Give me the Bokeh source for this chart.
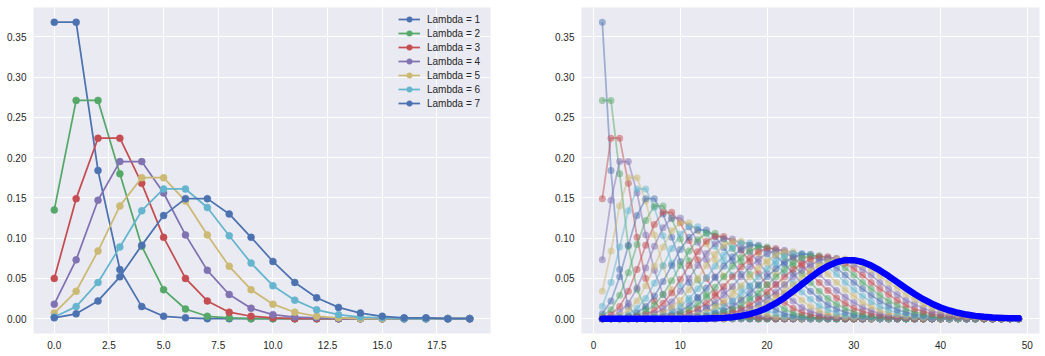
from bokeh.plotting import figure
from bokeh.layouts import row
from bokeh.models import Range1d, FixedTicker, Legend, LegendItem
from bokeh.embed import file_html
from bokeh.resources import INLINE

palette = ["#4C72B0", "#55A868", "#C44E52", "#8172B2", "#CCB974", "#64B5CD"]

# ---------------- left panel data (x = 0..19) ----------------
left_x = [0, 1, 2, 3, 4, 5, 6, 7, 8, 9, 10, 11, 12, 13, 14, 15, 16, 17, 18, 19]
left_names = ["Lambda = 1", "Lambda = 2", "Lambda = 3", "Lambda = 4",
              "Lambda = 5", "Lambda = 6", "Lambda = 7"]
lam1 = [0.368, 0.368, 0.184, 0.061, 0.015, 0.003, 0.001, 0, 0, 0, 0, 0, 0, 0, 0, 0, 0, 0, 0, 0]
lam2 = [0.135, 0.271, 0.271, 0.180, 0.090, 0.036, 0.012, 0.003, 0.001, 0, 0, 0, 0, 0, 0, 0, 0, 0, 0, 0]
lam3 = [0.050, 0.149, 0.224, 0.224, 0.168, 0.101, 0.050, 0.022, 0.008, 0.003, 0.001, 0, 0, 0, 0, 0, 0, 0, 0, 0]
lam4 = [0.018, 0.073, 0.147, 0.195, 0.195, 0.156, 0.104, 0.060, 0.030, 0.013, 0.005, 0.002, 0.001, 0, 0, 0, 0, 0, 0, 0]
lam5 = [0.007, 0.034, 0.084, 0.140, 0.175, 0.175, 0.146, 0.104, 0.065, 0.036, 0.018, 0.008, 0.003, 0.001, 0, 0, 0, 0, 0, 0]
lam6 = [0.002, 0.015, 0.045, 0.089, 0.134, 0.161, 0.161, 0.138, 0.103, 0.069, 0.041, 0.023, 0.011, 0.005, 0.002, 0.001, 0, 0, 0, 0]
lam7 = [0.001, 0.006, 0.022, 0.052, 0.091, 0.128, 0.149, 0.149, 0.130, 0.101, 0.071, 0.045, 0.026, 0.014, 0.007, 0.003, 0.001, 0.001, 0, 0]
left_series = [lam1, lam2, lam3, lam4, lam5, lam6, lam7]

left_xticks = [0.0, 2.5, 5.0, 7.5, 10.0, 12.5, 15.0, 17.5]
left_xtick_labels = ["0.0", "2.5", "5.0", "7.5", "10.0", "12.5", "15.0", "17.5"]
yticks = [0.0, 0.05, 0.1, 0.15, 0.2, 0.25, 0.3, 0.35]
ytick_labels = ["0.00", "0.05", "0.10", "0.15", "0.20", "0.25", "0.30", "0.35"]

# ---------------- right panel data (x = 1..49) ----------------
right_x = [1, 2, 3, 4, 5, 6, 7, 8, 9, 10, 11, 12, 13, 14, 15, 16, 17, 18, 19, 20,
           21, 22, 23, 24, 25, 26, 27, 28, 29, 30, 31, 32, 33, 34, 35, 36, 37, 38, 39, 40,
           41, 42, 43, 44, 45, 46, 47, 48, 49]
right_xticks = [0, 10, 20, 30, 40, 50]
right_xtick_labels = ["0", "10", "20", "30", "40", "50"]

r1 = [0.368, 0.184, 0.061, 0.015, 0.003, 0.001,
      0, 0, 0, 0, 0, 0, 0, 0, 0, 0, 0, 0, 0, 0, 0, 0, 0, 0, 0, 0,
      0, 0, 0, 0, 0, 0, 0, 0, 0, 0, 0, 0, 0, 0, 0, 0, 0, 0, 0, 0, 0, 0, 0]
r2 = [0.271, 0.271, 0.180, 0.090, 0.036, 0.012, 0.003, 0.001,
      0, 0, 0, 0, 0, 0, 0, 0, 0, 0, 0, 0, 0, 0, 0, 0, 0, 0, 0, 0,
      0, 0, 0, 0, 0, 0, 0, 0, 0, 0, 0, 0, 0, 0, 0, 0, 0, 0, 0, 0, 0]
r3 = [0.149, 0.224, 0.224, 0.168, 0.101, 0.050, 0.022, 0.008, 0.003, 0.001,
      0, 0, 0, 0, 0, 0, 0, 0, 0, 0, 0, 0, 0, 0, 0, 0, 0, 0, 0, 0,
      0, 0, 0, 0, 0, 0, 0, 0, 0, 0, 0, 0, 0, 0, 0, 0, 0, 0, 0]
r4 = [0.073, 0.147, 0.195, 0.195, 0.156, 0.104, 0.060, 0.030, 0.013, 0.005, 0.002, 0.001,
      0, 0, 0, 0, 0, 0, 0, 0, 0, 0, 0, 0, 0, 0, 0, 0, 0, 0, 0, 0,
      0, 0, 0, 0, 0, 0, 0, 0, 0, 0, 0, 0, 0, 0, 0, 0, 0]
r5 = [0.034, 0.084, 0.140, 0.175, 0.175, 0.146, 0.104, 0.065, 0.036, 0.018, 0.008, 0.003, 0.001,
      0, 0, 0, 0, 0, 0, 0, 0, 0, 0, 0, 0, 0, 0, 0, 0, 0, 0, 0, 0,
      0, 0, 0, 0, 0, 0, 0, 0, 0, 0, 0, 0, 0, 0, 0, 0]
r6 = [0.015, 0.045, 0.089, 0.134, 0.161, 0.161, 0.138, 0.103, 0.069, 0.041, 0.023, 0.011, 0.005, 0.002, 0.001,
      0, 0, 0, 0, 0, 0, 0, 0, 0, 0, 0, 0, 0, 0, 0, 0, 0, 0, 0, 0,
      0, 0, 0, 0, 0, 0, 0, 0, 0, 0, 0, 0, 0, 0]
r7 = [0.006, 0.022, 0.052, 0.091, 0.128, 0.149, 0.149, 0.130, 0.101, 0.071, 0.045, 0.026, 0.014, 0.007, 0.003, 0.001, 0.001,
      0, 0, 0, 0, 0, 0, 0, 0, 0, 0, 0, 0, 0, 0, 0, 0, 0, 0, 0, 0,
      0, 0, 0, 0, 0, 0, 0, 0, 0, 0, 0, 0]
r8 = [0.003, 0.011, 0.029, 0.057, 0.092, 0.122, 0.140, 0.140, 0.124, 0.099, 0.072, 0.048, 0.030, 0.017, 0.009, 0.005, 0.002, 0.001,
      0, 0, 0, 0, 0, 0, 0, 0, 0, 0, 0, 0, 0, 0, 0, 0, 0, 0, 0, 0,
      0, 0, 0, 0, 0, 0, 0, 0, 0, 0, 0]
r9 = [0.001, 0.005, 0.015, 0.034, 0.061, 0.091, 0.117, 0.132, 0.132, 0.119, 0.097, 0.073, 0.050, 0.032, 0.019, 0.011, 0.006, 0.003, 0.001, 0.001,
      0, 0, 0, 0, 0, 0, 0, 0, 0, 0, 0, 0, 0, 0, 0, 0, 0, 0, 0, 0,
      0, 0, 0, 0, 0, 0, 0, 0, 0]
r10 = [0, 0.002, 0.008, 0.019, 0.038, 0.063, 0.090, 0.113, 0.125, 0.125, 0.114, 0.095, 0.073, 0.052, 0.035, 0.022, 0.013, 0.007, 0.004, 0.002, 0.001,
       0, 0, 0, 0, 0, 0, 0, 0, 0, 0, 0, 0, 0, 0, 0, 0, 0, 0, 0, 0,
       0, 0, 0, 0, 0, 0, 0, 0]
r11 = [0, 0.001, 0.004, 0.010, 0.022, 0.041, 0.065, 0.089, 0.109, 0.119, 0.119, 0.109, 0.093, 0.073, 0.053, 0.037, 0.024, 0.015, 0.008, 0.005, 0.002, 0.001, 0.001,
       0, 0, 0, 0, 0, 0, 0, 0, 0, 0, 0, 0, 0, 0, 0, 0, 0, 0, 0, 0,
       0, 0, 0, 0, 0, 0]
r12 = [0, 0, 0.002, 0.005, 0.013, 0.025, 0.044, 0.066, 0.087, 0.105, 0.114, 0.114, 0.106, 0.090, 0.072, 0.054, 0.038, 0.026, 0.016, 0.010, 0.006, 0.003, 0.002, 0.001,
       0, 0, 0, 0, 0, 0, 0, 0, 0, 0, 0, 0, 0, 0, 0, 0, 0, 0, 0, 0,
       0, 0, 0, 0, 0]
r13 = [0, 0, 0.001, 0.003, 0.007, 0.015, 0.028, 0.046, 0.066, 0.086, 0.101, 0.110, 0.110, 0.102, 0.088, 0.072, 0.055, 0.040, 0.027, 0.018, 0.011, 0.006, 0.004, 0.002, 0.001, 0.001,
       0, 0, 0, 0, 0, 0, 0, 0, 0, 0, 0, 0, 0, 0, 0, 0, 0, 0, 0, 0,
       0, 0, 0]
r14 = [0, 0, 0, 0.001, 0.004, 0.009, 0.017, 0.030, 0.047, 0.066, 0.084, 0.098, 0.106, 0.106, 0.099, 0.087, 0.071, 0.055, 0.041, 0.029, 0.019, 0.012, 0.007, 0.004, 0.002, 0.001, 0.001,
       0, 0, 0, 0, 0, 0, 0, 0, 0, 0, 0, 0, 0, 0, 0, 0, 0, 0, 0, 0,
       0, 0]
r15 = [0, 0, 0, 0.001, 0.002, 0.005, 0.010, 0.019, 0.032, 0.049, 0.066, 0.083, 0.096, 0.102, 0.102, 0.096, 0.085, 0.071, 0.056, 0.042, 0.030, 0.020, 0.013, 0.008, 0.005, 0.003, 0.002, 0.001,
       0, 0, 0, 0, 0, 0, 0, 0, 0, 0, 0, 0, 0, 0, 0, 0, 0, 0, 0, 0,
       0]
r16 = [0, 0, 0, 0, 0.001, 0.003, 0.006, 0.012, 0.021, 0.034, 0.050, 0.066, 0.081, 0.093, 0.099, 0.099, 0.093, 0.083, 0.070, 0.056, 0.043, 0.031, 0.022, 0.014, 0.009, 0.006, 0.003, 0.002, 0.001, 0.001,
       0, 0, 0, 0, 0, 0, 0, 0, 0, 0, 0, 0, 0, 0, 0, 0, 0, 0, 0]
r17 = [0, 0, 0, 0, 0, 0.001, 0.003, 0.007, 0.014, 0.023, 0.036, 0.050, 0.066, 0.080, 0.091, 0.096, 0.096, 0.091, 0.081, 0.069, 0.056, 0.043, 0.032, 0.023, 0.015, 0.010, 0.006, 0.004, 0.002, 0.001, 0.001,
       0, 0, 0, 0, 0, 0, 0, 0, 0, 0, 0, 0, 0, 0, 0, 0, 0, 0]
r18 = [0, 0, 0, 0, 0, 0.001, 0.002, 0.004, 0.008, 0.015, 0.025, 0.037, 0.051, 0.065, 0.079, 0.088, 0.094, 0.094, 0.089, 0.080, 0.068, 0.056, 0.044, 0.033, 0.024, 0.016, 0.011, 0.007, 0.004, 0.003, 0.002, 0.001,
       0, 0, 0, 0, 0, 0, 0, 0, 0, 0, 0, 0, 0, 0, 0, 0, 0]
r19 = [0, 0, 0, 0, 0, 0,
       0.001, 0.002, 0.005, 0.009, 0.016, 0.026, 0.038, 0.051, 0.065, 0.077, 0.086, 0.091, 0.091, 0.087, 0.078, 0.068, 0.056, 0.044, 0.034, 0.025, 0.017, 0.012, 0.008, 0.005, 0.003, 0.002, 0.001, 0.001,
       0, 0, 0, 0, 0, 0, 0, 0, 0, 0, 0, 0, 0, 0, 0]
r20 = [0, 0, 0, 0, 0, 0,
       0.001, 0.001, 0.003, 0.006, 0.011, 0.018, 0.027, 0.039, 0.052, 0.065, 0.076, 0.084, 0.089, 0.089, 0.085, 0.077, 0.067, 0.056, 0.045, 0.034, 0.025, 0.018, 0.013, 0.008, 0.005, 0.003, 0.002, 0.001, 0.001,
       0, 0, 0, 0, 0, 0, 0, 0, 0, 0, 0, 0, 0, 0]
r21 = [0, 0, 0, 0, 0, 0, 0,
       0.001, 0.002, 0.003, 0.007, 0.012, 0.019, 0.028, 0.040, 0.052, 0.064, 0.075, 0.083, 0.087, 0.087, 0.083, 0.076, 0.066, 0.056, 0.045, 0.035, 0.026, 0.019, 0.013, 0.009, 0.006, 0.004, 0.002, 0.001, 0.001,
       0, 0, 0, 0, 0, 0, 0, 0, 0, 0, 0, 0, 0]
r22 = [0, 0, 0, 0, 0, 0, 0, 0,
       0.001, 0.002, 0.004, 0.007, 0.013, 0.020, 0.029, 0.040, 0.052, 0.064, 0.074, 0.081, 0.085, 0.085, 0.081, 0.074, 0.065, 0.055, 0.045, 0.035, 0.027, 0.020, 0.014, 0.010, 0.006, 0.004, 0.003, 0.002, 0.001, 0.001,
       0, 0, 0, 0, 0, 0, 0, 0, 0, 0, 0]
r23 = [0, 0, 0, 0, 0, 0, 0, 0,
       0.001, 0.001, 0.002, 0.005, 0.008, 0.014, 0.021, 0.030, 0.041, 0.052, 0.063, 0.072, 0.079, 0.083, 0.083, 0.079, 0.073, 0.065, 0.055, 0.045, 0.036, 0.028, 0.020, 0.015, 0.010, 0.007, 0.005, 0.003, 0.002, 0.001, 0.001,
       0, 0, 0, 0, 0, 0, 0, 0, 0, 0]
r24 = [0, 0, 0, 0, 0, 0, 0, 0, 0,
       0.001, 0.001, 0.003, 0.005, 0.009, 0.015, 0.022, 0.031, 0.041, 0.052, 0.062, 0.071, 0.078, 0.081, 0.081, 0.078, 0.072, 0.064, 0.055, 0.045, 0.036, 0.028, 0.021, 0.015, 0.011, 0.007, 0.005, 0.003, 0.002, 0.001, 0.001,
       0, 0, 0, 0, 0, 0, 0, 0, 0]
r25 = [0, 0, 0, 0, 0, 0, 0, 0, 0, 0,
       0.001, 0.002, 0.003, 0.006, 0.010, 0.015, 0.023, 0.032, 0.042, 0.052, 0.062, 0.070, 0.076, 0.080, 0.080, 0.076, 0.071, 0.063, 0.054, 0.045, 0.037, 0.029, 0.022, 0.016, 0.011, 0.008, 0.005, 0.004, 0.002, 0.001, 0.001, 0.001,
       0, 0, 0, 0, 0, 0, 0]
r26 = [0, 0, 0, 0, 0, 0, 0, 0, 0, 0, 0,
       0.001, 0.002, 0.004, 0.007, 0.011, 0.016, 0.024, 0.032, 0.042, 0.052, 0.061, 0.069, 0.075, 0.078, 0.078, 0.075, 0.070, 0.063, 0.054, 0.045, 0.037, 0.029, 0.022, 0.017, 0.012, 0.008, 0.006, 0.004, 0.002, 0.002, 0.001, 0.001,
       0, 0, 0, 0, 0, 0]
r27 = [0, 0, 0, 0, 0, 0, 0, 0, 0, 0, 0,
       0.001, 0.001, 0.002, 0.004, 0.007, 0.011, 0.017, 0.024, 0.033, 0.042, 0.052, 0.061, 0.068, 0.074, 0.077, 0.077, 0.074, 0.069, 0.062, 0.054, 0.045, 0.037, 0.030, 0.023, 0.017, 0.012, 0.009, 0.006, 0.004, 0.003, 0.002, 0.001, 0.001,
       0, 0, 0, 0, 0]
r28 = [0, 0, 0, 0, 0, 0, 0, 0, 0, 0, 0, 0,
       0.001, 0.001, 0.003, 0.005, 0.008, 0.012, 0.018, 0.025, 0.033, 0.042, 0.052, 0.060, 0.067, 0.072, 0.075, 0.075, 0.073, 0.068, 0.061, 0.054, 0.045, 0.037, 0.030, 0.023, 0.018, 0.013, 0.009, 0.007, 0.004, 0.003, 0.002, 0.001, 0.001,
       0, 0, 0, 0]
r29 = [0, 0, 0, 0, 0, 0, 0, 0, 0, 0, 0, 0, 0,
       0.001, 0.002, 0.003, 0.005, 0.008, 0.013, 0.019, 0.026, 0.034, 0.042, 0.051, 0.060, 0.066, 0.071, 0.074, 0.074, 0.071, 0.067, 0.061, 0.053, 0.045, 0.038, 0.030, 0.024, 0.018, 0.013, 0.010, 0.007, 0.005, 0.003, 0.002, 0.001, 0.001, 0.001,
       0, 0]
right_series = [r1, r2, r3, r4, r5, r6, r7, r8, r9, r10, r11, r12, r13, r14, r15,
                r16, r17, r18, r19, r20, r21, r22, r23, r24, r25, r26, r27, r28, r29]

# highlighted lambda = 30 curve
lam30 = [0, 0, 0, 0, 0, 0, 0, 0, 0, 0, 0, 0,
         0.0002, 0.0005, 0.0010, 0.0019, 0.0034, 0.0057, 0.0089, 0.0134, 0.0192, 0.0261,
         0.0341, 0.0426, 0.0511, 0.0590, 0.0655, 0.0702, 0.0726, 0.0726, 0.0703, 0.0659,
         0.0599, 0.0529, 0.0453, 0.0378, 0.0306, 0.0242, 0.0186, 0.0139, 0.0102, 0.0073,
         0.0051, 0.0035, 0.0023, 0.0015, 0.0010, 0.0006, 0.0004]

FONT = "Liberation Sans"
TXT = "#262626"


def style(p, xticks, xlabels):
    p.xaxis.ticker = FixedTicker(ticks=xticks)
    p.xaxis.major_label_overrides = {t: s for t, s in zip(xticks, xlabels)}
    p.yaxis.ticker = FixedTicker(ticks=yticks)
    p.yaxis.major_label_overrides = {t: s for t, s in zip(yticks, ytick_labels)}
    for ax in list(p.xaxis) + list(p.yaxis):
        ax.axis_line_color = None
        ax.major_tick_line_color = None
        ax.minor_tick_line_color = None
        ax.major_tick_out = 0
        ax.major_tick_in = 0
        ax.major_label_text_font = FONT
        ax.major_label_text_font_size = "10px"
        ax.major_label_text_color = TXT
        ax.major_label_standoff = 7
    for g in list(p.xgrid) + list(p.ygrid):
        g.grid_line_color = "white"
        g.grid_line_width = 1
    p.outline_line_color = None


y_lo, y_hi = -0.0184, 0.3863

p1 = figure(width=535, height=356, output_backend="svg", toolbar_location=None,
            x_range=Range1d(-0.95, 19.95), y_range=Range1d(y_lo, y_hi),
            min_border_left=33, min_border_right=45, min_border_top=7, min_border_bottom=23,
            background_fill_color="#EAEAF2", border_fill_color="white")
style(p1, left_xticks, left_xtick_labels)

items = []
for i, (vals, name) in enumerate(zip(left_series, left_names)):
    c = palette[i % len(palette)]
    xs = left_x[:len(vals)]
    ln = p1.line(xs, vals, line_color=c, line_width=1.75, line_join="round")
    sc = p1.scatter(xs, vals, size=7, fill_color=c, line_color=c, line_width=0.5)
    items.append(LegendItem(label=name, renderers=[ln, sc]))

legend = Legend(items=items, location="top_right", margin=5, padding=5, spacing=0,
                glyph_height=14, glyph_width=22, label_height=14, label_width=58,
                label_standoff=7, label_text_font=FONT, label_text_font_size="10px",
                label_text_color=TXT, background_fill_alpha=0, border_line_color=None)
p1.add_layout(legend)

p2 = figure(width=510, height=356, output_backend="svg", toolbar_location=None,
            x_range=Range1d(-1.4, 51.4), y_range=Range1d(y_lo, y_hi),
            min_border_left=46, min_border_right=6, min_border_top=7, min_border_bottom=23,
            background_fill_color="#EAEAF2", border_fill_color="white")
style(p2, right_xticks, right_xtick_labels)

for i, vals in enumerate(right_series):
    c = palette[i % len(palette)]
    xs = right_x[:len(vals)]
    p2.line(xs, vals, line_color=c, line_width=1.75, line_alpha=0.5, line_join="round")
    p2.scatter(xs, vals, size=7, fill_color=c, fill_alpha=0.5, line_color=None)

p2.line(right_x[:len(lam30)], lam30, line_color="#0000FF", line_width=6.5,
        line_join="round", line_cap="round")

layout = row(p1, p2)
open("out.html", "w").write(file_html(layout, INLINE))
